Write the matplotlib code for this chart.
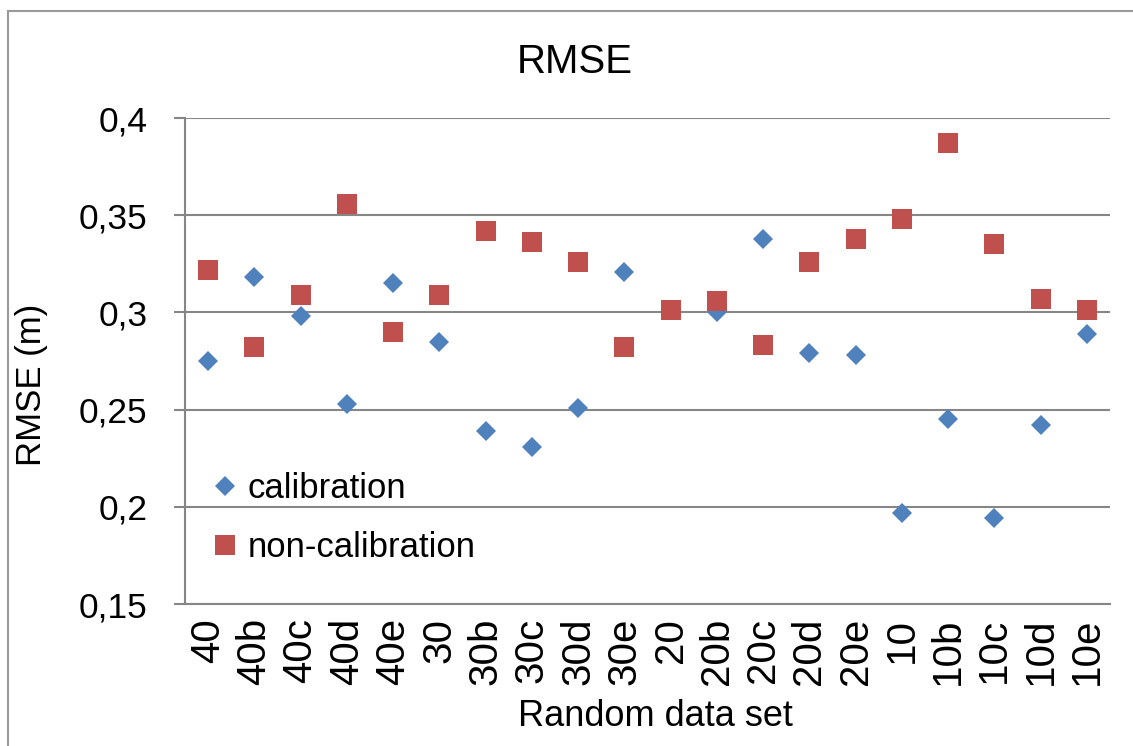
import matplotlib.pyplot as plt
from matplotlib.lines import Line2D
from matplotlib.ticker import FuncFormatter

# RMSE per random data set, with and without calibration
datasets = ["40", "40b", "40c", "40d", "40e",
            "30", "30b", "30c", "30d", "30e",
            "20", "20b", "20c", "20d", "20e",
            "10", "10b", "10c", "10d", "10e"]
rmse_calibration = [0.275, 0.318, 0.298, 0.253, 0.315,
                    0.285, 0.239, 0.231, 0.251, 0.321,
                    0.301, 0.300, 0.338, 0.279, 0.278,
                    0.197, 0.245, 0.194, 0.242, 0.289]
rmse_non_calibration = [0.322, 0.282, 0.309, 0.356, 0.290,
                        0.309, 0.342, 0.336, 0.326, 0.282,
                        0.301, 0.306, 0.283, 0.326, 0.338,
                        0.348, 0.387, 0.335, 0.307, 0.301]

plt.rcParams["font.family"] = ["Liberation Sans", "DejaVu Sans"]

W, H = 1133, 746
blue = "#4F81BD"
red = "#C0504D"
grid_grey = "#868686"

fig = plt.figure(figsize=(W / 100, H / 100), dpi=100)
ax = fig.add_axes([185 / W, 1 - 604 / H, 925 / W, 486 / H])

x = list(range(len(datasets)))
ax.plot(x, rmse_calibration, linestyle="none", marker="D", markersize=10.5,
        color=blue, markeredgewidth=0, zorder=3)
ax.plot(x, rmse_non_calibration, linestyle="none", marker="s", markersize=14.5,
        color=red, markeredgewidth=0, zorder=3)

ax.set_xlim(-0.5, len(datasets) - 0.5)
ax.set_ylim(0.15, 0.4)
ax.set_yticks([0.15, 0.2, 0.25, 0.3, 0.35, 0.4])
ax.yaxis.set_major_formatter(FuncFormatter(lambda v, p: f"{v:g}".replace(".", ",")))
ax.set_xticks(x)
ax.set_xticklabels(datasets, rotation=90, va="top", ha="center")

ax.grid(axis="y", color=grid_grey, linewidth=1.5, zorder=0)
for side in ["top", "right"]:
    ax.spines[side].set_visible(False)
for side in ["left", "bottom"]:
    ax.spines[side].set_color(grid_grey)
    ax.spines[side].set_linewidth(1.5)

ax.tick_params(axis="y", direction="out", length=8, width=1.5, color=grid_grey,
               labelsize=25.5, pad=19)
ax.tick_params(axis="x", length=0, labelsize=29, pad=10)

fig.text(575 / W, 1 - 62 / H, "RMSE", fontsize=29, ha="center", va="center")
fig.text(32 / W, 1 - 385 / H, "RMSE (m)", fontsize=25, rotation=90,
         ha="center", va="center")
fig.text(655 / W, 1 - 716 / H, "Random data set", fontsize=26,
         ha="center", va="center")

handles = [
    Line2D([], [], linestyle="none", marker="D", markersize=10.5, color=blue,
           markeredgewidth=0),
    Line2D([], [], linestyle="none", marker="s", markersize=14.5, color=red,
           markeredgewidth=0),
]
fig.legend(handles, ["calibration", "non-calibration"], loc="center left",
           bbox_to_anchor=(208 / W, 1 - 518 / H), frameon=False, fontsize=25,
           borderpad=0, borderaxespad=0, handletextpad=0.15, handlelength=1.0,
           labelspacing=0.75)

# chart area border (left and top edges)
fig.add_artist(Line2D([8 / W, 8 / W], [0, 1 - 11 / H],
                      transform=fig.transFigure, color="#9A9A9A", linewidth=1.5))
fig.add_artist(Line2D([8 / W, 1], [1 - 11 / H, 1 - 11 / H],
                      transform=fig.transFigure, color="#9A9A9A", linewidth=1.5))

fig.savefig("out.png", dpi=100)
